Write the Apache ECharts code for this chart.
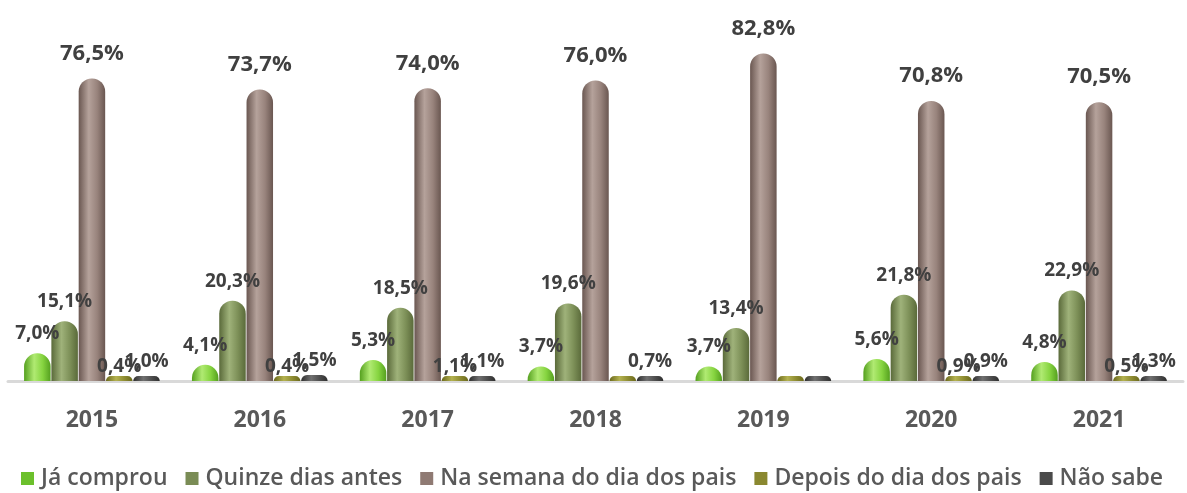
<!DOCTYPE html>
<html>
<head>
<meta charset="utf-8">
<script src="https://cdn.jsdelivr.net/npm/echarts@6/dist/echarts.min.js"></script>
<style>
html,body{margin:0;padding:0;background:#fff;}
#chart{width:1187px;height:493px;}
</style>
</head>
<body>
<div id="chart"></div>
<script>
// ---- data ----
const years = ['2015', '2016', '2017', '2018', '2019', '2020', '2021'];
const jaComprou   = [7.0, 4.1, 5.3, 3.7, 3.7, 5.6, 4.8];
const quinzeDias  = [15.1, 20.3, 18.5, 19.6, 13.4, 21.8, 22.9];
const naSemana    = [76.5, 73.7, 74.0, 76.0, 82.8, 70.8, 70.5];
const depoisDia   = [0.4, 0.4, 1.1, 0.0, 0.0, 0.9, 0.5];
const naoSabe     = [1.0, 1.5, 1.1, 0.7, 0.0, 0.9, 1.3];
const seriesNames = ['Já comprou', 'Quinze dias antes', 'Na semana do dia dos pais', 'Depois do dia dos pais', 'Não sabe'];

// ---- styling ----
function cyl(edge, light, mid) {
  return {
    type: 'linear', x: 0, y: 0, x2: 1, y2: 0,
    colorStops: [
      {offset: 0, color: edge},
      {offset: 0.38, color: light},
      {offset: 0.7, color: mid},
      {offset: 1, color: edge}
    ]
  };
}
const colors = [
  cyl('#55a01f', '#b0ea72', '#86d440'),
  cyl('#5a6a3a', '#9fb27a', '#7d9058'),
  cyl('#6a5751', '#b5a29b', '#98837c'),
  cyl('#6a681c', '#b4b250', '#8e8c32'),
  cyl('#2e2e2e', '#707070', '#4d4d4d')
];
const legendColors = ['#6cc02c', '#7a8c55', '#8f7a73', '#8a8830', '#4a4a4a'];

const FONT = '"Open Sans", "Noto Sans", sans-serif';
function fmt(p) {
  if (p.value === 0) return '';
  return p.value.toFixed(1).replace('.', ',') + '%';
}
function labelCfg(size, dist, off) {
  return {
    show: true, position: 'top', distance: dist, offset: off,
    formatter: fmt, color: '#404040', fontFamily: FONT,
    fontWeight: 'bold', fontSize: size
  };
}
const datasets = [jaComprou, quinzeDias, naSemana, depoisDia, naoSabe];
const labels = [
  labelCfg(19, 10, [-1, 0]),
  labelCfg(19, 10, [1, 0]),
  labelCfg(22, 14, [0, 0]),
  labelCfg(19, 0, [3, 0]),
  labelCfg(19, 5, [9, 0])
];

const series = datasets.map((d, i) => ({
  name: seriesNames[i],
  type: 'bar',
  data: d,
  barWidth: 26.5,
  barGap: '3%',
  barMinHeight: 5,
  itemStyle: {color: colors[i], borderRadius: [13, 13, 0, 0]},
  label: labels[i],
  labelLayout: {hideOverlap: false},
  emphasis: {disabled: true}
}));

const chart = echarts.init(document.getElementById('chart'), null, {renderer: 'canvas'});
chart.setOption({
  animation: false,
  backgroundColor: '#ffffff',
  color: legendColors,
  grid: {left: 8, right: 4, top: 25, bottom: 108, containLabel: false},
  legend: {
    top: 462, left: 16,
    itemWidth: 13, itemHeight: 13, itemGap: 18,
    icon: 'rect',
    textStyle: {color: '#595959', fontFamily: FONT, fontWeight: 600, fontSize: 23, padding: [0, 0, 0, 2]},
    data: seriesNames.map((n, i) => ({name: n, itemStyle: {color: legendColors[i]}}))
  },
  xAxis: {
    type: 'category', data: years,
    axisLine: {show: true, lineStyle: {color: '#d9d9d9', width: 3}},
    axisTick: {show: false},
    axisLabel: {color: '#595959', fontFamily: FONT, fontWeight: 'bold', fontSize: 23, margin: 24}
  },
  yAxis: {
    type: 'value', min: -1, max: 90,
    show: false, splitLine: {show: false}
  },
  series: series
});
</script>
</body>
</html>
